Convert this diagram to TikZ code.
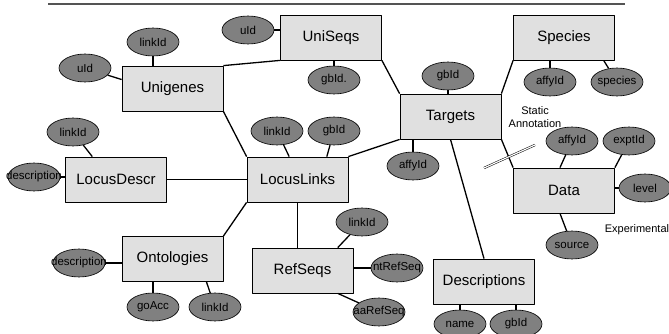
\documentclass[tikz,border=0pt]{standalone}
\usepackage{fontspec}
\setmainfont{Liberation Sans}
\usetikzlibrary{shapes.geometric}
\definecolor{boxgray}{gray}{0.88}
\definecolor{attgray}{gray}{0.5}
\definecolor{rulegray}{gray}{0.33}
\begin{document}
\begin{tikzpicture}[x=1pt, y=-1pt, line join=round,
	tbl/.style={draw, line width=0.8pt, fill=boxgray, minimum width=101pt, minimum height=45pt, inner sep=0pt, font=\fontsize{15}{17}\selectfont},
	att/.style={ellipse, draw, line width=0.6pt, fill=attgray, minimum width=52pt, minimum height=28pt, inner sep=0pt, font=\fontsize{11.5}{13}\selectfont},
	lnk/.style={line width=1.3pt}]
	\useasboundingbox (0,0) rectangle (669,334);
	\draw[line width=2pt, rulegray] (48,4) -- (625,4);
	% tables
	\foreach \nm/\x/\y/\txt in {unigenes/172.5/88.5/Unigenes, uniseqs/331/37.5/UniSeqs, species/564/37.5/Species,
		targets/450.5/116.5/Targets, locuslinks/297.5/179.5/LocusLinks, locusdescr/116/179.5/LocusDescr,
		ontologies/172.5/259/Ontologies, refseqs/302.5/270.5/RefSeqs, descriptions/484/281.5/Descriptions, data/564/190.5/Data}
		{\node[tbl] (\nm) at (\x,\y) {\txt};}
	% attributes
	\foreach \nm/\x/\y/\txt in {ug-uid/85/68/uId, ug-link/153/42/linkId, us-uid/248/30/uId, us-gb/334/80/gbId.,
		tg-gb/448/76/gbId, tg-affy/413/166/affyId, sp-affy/550/82/affyId, sp-spec/617/82/species,
		dt-affy/572/141/affyId, dt-expt/629/141/exptId, dt-level/645/188/level, dt-src/572/245/source,
		ll-link/277/131/linkId, ll-gb/334/131/gbId, ld-link/73/132/linkId, ld-desc/34/177/description,
		on-desc/79/263/description, on-go/153/307/goAcc, on-link/215/307/linkId,
		rs-link/362/222/linkId, rs-nt/397/268/ntRefSeq, rs-aa/379/312/aaRefSeq,
		ds-name/460/324/name, ds-gb/516/324/gbId}
		{\node[att] (\nm) at (\x,\y) {\makebox[0pt]{\txt}};}
	% relations between tables
	\draw[lnk] (unigenes.north east) -- (uniseqs.south west);
	\draw[lnk] (unigenes.south east) -- (locuslinks.north west);
	\draw[lnk] (uniseqs.south east) -- (targets.north west);
	\draw[lnk] (targets.north east) -- (species.south west);
	\draw[lnk] (targets.south east) -- (data.north west);
	\draw[lnk] (targets.south) -- (descriptions.north);
	\draw[lnk] (targets.south west) -- (locuslinks.north east);
	\draw[lnk] (locusdescr) -- (locuslinks);
	\draw[lnk] (locuslinks.south west) -- (ontologies.north east);
	\draw[lnk] (locuslinks.south) -- (locuslinks.south |- refseqs.north);
	% attribute links
	\foreach \a/\b in {ug-link/unigenes, tg-gb/targets} {\draw[lnk] (\a) -- (\a |- \b.north);}
	\foreach \a/\b in {us-gb/uniseqs, sp-affy/species, tg-affy/targets, on-go/ontologies, ds-name/descriptions, ds-gb/descriptions}
		{\draw[lnk] (\a) -- (\a |- \b.south);}
	\foreach \a/\b in {us-uid/uniseqs, ld-desc/locusdescr, on-desc/ontologies} {\draw[lnk] (\a) -- (\a -| \b.west);}
	\foreach \a/\b in {dt-level/data, rs-nt/refseqs} {\draw[lnk] (\a) -- (\a -| \b.east);}
	\foreach \a/\b in {ug-uid/unigenes.170, sp-spec/species.-30, dt-affy/data.100, dt-expt/data.north east, dt-src/data.-100,
		ll-link/locuslinks.110, ll-gb/locuslinks.38, ld-link/locusdescr.136, on-link/ontologies.-34, rs-link/refseqs.33, rs-aa/refseqs.-33}
		{\draw[lnk] (\a) -- (\b);}
	% static / experimental split
	\coordinate (cut-a) at (484,168);
	\coordinate (cut-b) at (535,145);
	\draw[line width=0.5pt, double, double distance=1.2pt] (cut-a) -- (cut-b);
	\node[align=center, font=\fontsize{11}{13}\selectfont] (static) at (535,117) {Static\\Annotation};
	\node[font=\fontsize{11}{13}\selectfont] (expt) at (637,230) {Experimental};
\end{tikzpicture}
\end{document}
